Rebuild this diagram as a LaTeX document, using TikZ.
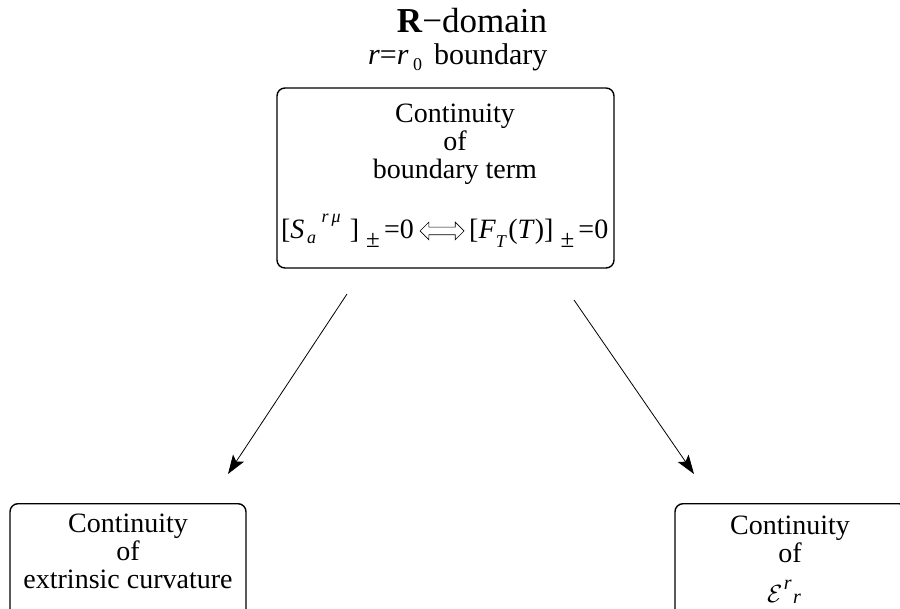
\documentclass[tikz,border=0pt]{standalone}
\usepackage{fontspec}
\setmainfont{Liberation Serif}
\usetikzlibrary{arrows.meta,shapes.arrows}
\newcommand\subx[2][0.2em]{\raisebox{-#1}{\fontsize{18}{18}\selectfont #2}}
\newcommand\supx[1]{\raisebox{0.58em}{\fontsize{18}{18}\selectfont #1}}
\newcommand\pmx{\raisebox{-0.3em}{\fontsize{25}{25}\selectfont ±}}
\begin{document}
\begin{tikzpicture}[x=1pt,y=-1pt,
  box/.style={draw, line width=1.4pt, rounded corners=8pt, inner sep=0pt},
  txt/.style={align=center, font=\fontsize{28}{28}\selectfont, inner sep=0pt},
  eqtxt/.style={inner sep=0pt, font=\fontsize{28}{28}\selectfont},
  arr/.style={line width=0.8pt, -{Stealth[length=19pt,width=13pt,inset=4pt]}}]
\useasboundingbox (0,0) rectangle (900,609);
% title
\node[anchor=base, font=\fontsize{35}{35}\selectfont, inner sep=0pt] (title) at (472,33) {\textbf{R}−domain};
\node[anchor=base west, font=\fontsize{30}{30}\selectfont, inner sep=0pt] (sub) at (368,65)
 {\textit{r}=\textit{r}\hspace{0.15em}\subx{0}\hspace{0.4em}boundary};
% top box
\node[box, minimum width=337pt, minimum height=180pt] (top) at (445.5,178) {};
\node[txt, anchor=base] (topa) at (455,179) {Continuity\\of\\boundary term};
\node[eqtxt, anchor=base east] (eql) at (414,239)
 {[\textit{S}\rlap{\hspace{0.62em}\supx{\textit{r\,μ}}}\hspace{0.1em}\subx[0.15em]{\textit{a}}\hspace{1.2em}]\hspace{0.25em}\pmx\hspace{0.15em}=0};
\node[double arrow, draw, line width=0.7pt, minimum height=44pt, inner xsep=0pt, inner ysep=3.5pt,
      double arrow head extend=5pt] (iff) at (442,231) {};
\node[eqtxt, anchor=base west] (eqr) at (469,239)
 {[\textit{F}\subx[0.3em]{\textit{T}}\hspace{0.05em}(\textit{T})]\hspace{0.25em}\pmx\hspace{0.15em}=0};
% bottom boxes
\node[box, anchor=north, minimum width=236pt, minimum height=140pt] (L) at (128,503) {};
\node[txt, anchor=base] (Lt) at (128,588) {Continuity\\of\\extrinsic curvature};
\node[box, anchor=north, minimum width=232pt, minimum height=140pt] (R) at (791,503) {};
\node[txt, anchor=base] (Rt) at (790,562) {Continuity\\of};
\node[anchor=base, inner sep=0pt, font=\fontsize{28}{28}\selectfont] (Re) at (784,602)
 {{\fontsize{34}{34}\selectfont$\mathcal{E}$}\hspace{0.05em}\raisebox{0.45em}{\fontsize{20}{20}\selectfont\textit{r}}\hspace{0.05em}\raisebox{-0.05em}{\fontsize{20}{20}\selectfont\textit{r}}};
% arrows
\coordinate (a1) at (347,294);
\coordinate (b1) at (228,474);
\coordinate (a2) at (574,300);
\coordinate (b2) at (694,474);
\draw[arr] (a1) -- (b1);
\draw[arr] (a2) -- (b2);
\end{tikzpicture}
\end{document}
